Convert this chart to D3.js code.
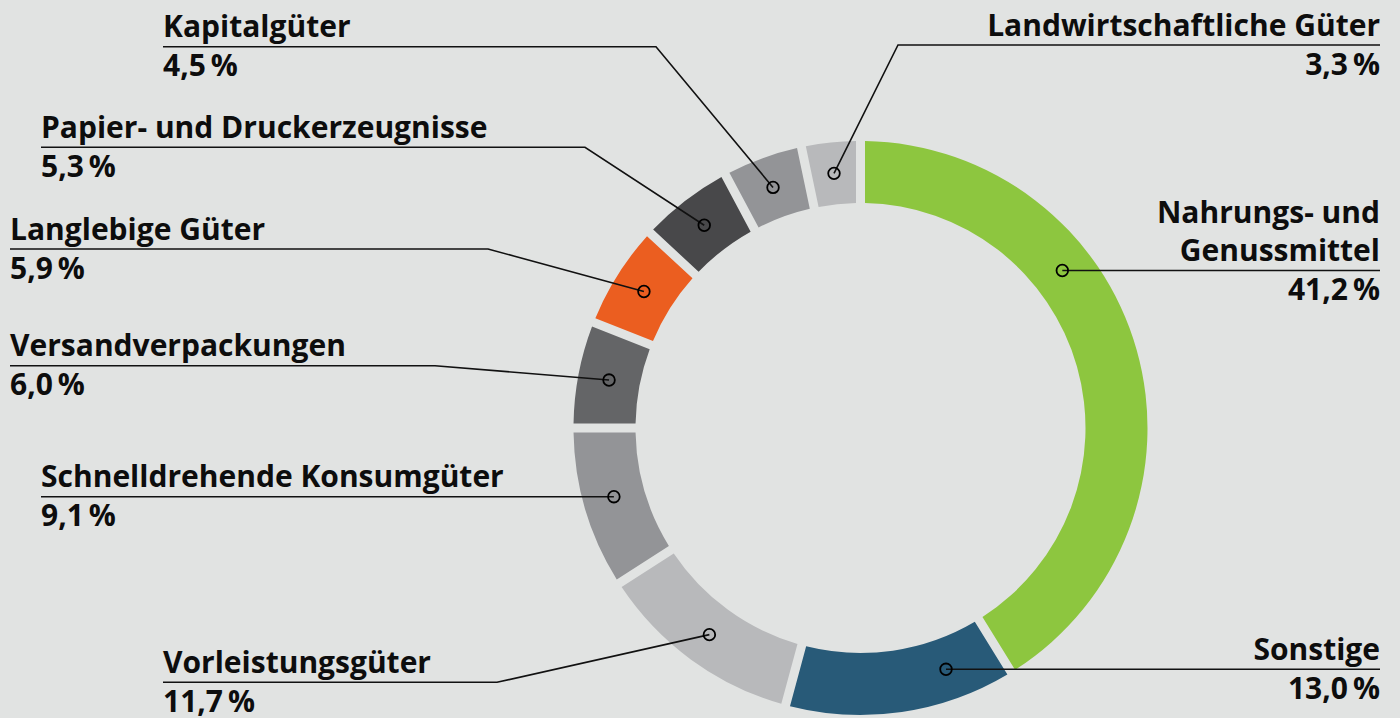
<!DOCTYPE html>
<html><head><meta charset="utf-8">
<script src="https://cdn.jsdelivr.net/npm/d3@7"></script>
<style>
html,body{margin:0;padding:0;background:#e1e3e2;}
svg{display:block;}
text{font-family:"Open Sans","Noto Sans",sans-serif;font-weight:700;fill:#0d0d0d;}
</style></head>
<body>
<svg id="chart" width="1400" height="718"></svg>
<script>
// ---- data ----
const categories = ["Nahrungs- und Genussmittel","Sonstige","Vorleistungsgüter","Schnelldrehende Konsumgüter","Versandverpackungen","Langlebige Güter","Papier- und Druckerzeugnisse","Kapitalgüter","Landwirtschaftliche Güter"];
const nameLines = [["Nahrungs- und","Genussmittel"],["Sonstige"],["Vorleistungsgüter"],["Schnelldrehende Konsumgüter"],["Versandverpackungen"],["Langlebige Güter"],["Papier- und Druckerzeugnisse"],["Kapitalgüter"],["Landwirtschaftliche Güter"]];
const values = [41.2,13.0,11.7,9.1,6.0,5.9,5.3,4.5,3.3];
const valueLabels = ["41,2\u2009%","13,0\u2009%","11,7\u2009%","9,1\u2009%","6,0\u2009%","5,9\u2009%","5,3\u2009%","4,5\u2009%","3,3\u2009%"];

// ---- styles / layout ----
const colors = ["#8dc63f","#285a78","#b8b9bb","#939497","#646567","#eb5e20","#48484a","#939497","#b8b9bb"];
// label layout: side, text anchor x, underline y, bend x (null = straight), dot mode
const labelLayout = [
  {side:"right", x:1380, y:270.5, bend:null, dot:"row"},
  {side:"right", x:1380, y:669.3, bend:null, dot:"row"},
  {side:"left",  x:163,  y:682.3, bend:497,  dot:"centroid"},
  {side:"left",  x:41,   y:496.7, bend:null, dot:"row"},
  {side:"left",  x:10,   y:365.7, bend:435,  dot:"centroid"},
  {side:"left",  x:10,   y:249,   bend:488,  dot:"centroid"},
  {side:"left",  x:41,   y:147.3, bend:585,  dot:"centroid"},
  {side:"left",  x:163,  y:46.7,  bend:656,  dot:"centroid"},
  {side:"right", x:1380, y:45,    bend:898,  dot:"centroid"}
];
const cx = 860.5, cy = 428, rOuter = 287, rInner = 225, gap = 9;
const rMid = (rOuter + rInner) / 2;
const fontSize = 30;

const svg = d3.select("#chart");
const g = svg.append("g").attr("transform", `translate(${cx},${cy})`);

const pie = d3.pie().sort(null).value(d => d).startAngle(0).endAngle(2*Math.PI);
const arcs = pie(values);
const arc = d3.arc().innerRadius(rInner).outerRadius(rOuter)
  .padAngle(gap / rMid).padRadius(rMid);

g.selectAll("path.seg").data(arcs).join("path")
  .attr("class","seg")
  .attr("d", arc)
  .attr("fill", (d,i) => colors[i]);

// leaders and labels
const lab = svg.append("g");
arcs.forEach((a, i) => {
  const L = labelLayout[i];
  let dx, dy;
  if (L.dot === "centroid") {
    const c = d3.arc().innerRadius(rInner).outerRadius(rOuter).centroid(a);
    dx = cx + c[0]; dy = cy + c[1];
  } else {
    const off = L.y - cy;
    const w = Math.sqrt(rMid*rMid - off*off);
    dx = L.side === "right" ? cx + w : cx - w;
    dy = L.y;
  }
  const pts = [[L.x, L.y]];
  if (L.bend !== null) pts.push([L.bend, L.y]);
  pts.push([dx, dy]);
  lab.append("path")
    .attr("d", d3.line()(pts))
    .attr("fill","none").attr("stroke","#111").attr("stroke-width",1.6);
  lab.append("circle")
    .attr("cx", dx).attr("cy", dy).attr("r", 5.8)
    .attr("fill","none").attr("stroke","#000").attr("stroke-width",1.8);

  const anchor = L.side === "left" ? "start" : "end";
  const lines = nameLines[i];
  lines.forEach((t, k) => {
    lab.append("text")
      .attr("x", L.x).attr("y", L.y - 9.5 - (lines.length - 1 - k) * 38)
      .attr("text-anchor", anchor)
      .attr("font-size", fontSize)
      .text(t);
  });
  lab.append("text")
    .attr("x", L.x).attr("y", L.y + 29.5)
    .attr("text-anchor", anchor)
    .attr("font-size", fontSize)
    .text(valueLabels[i]);
});
</script>
</body></html>
